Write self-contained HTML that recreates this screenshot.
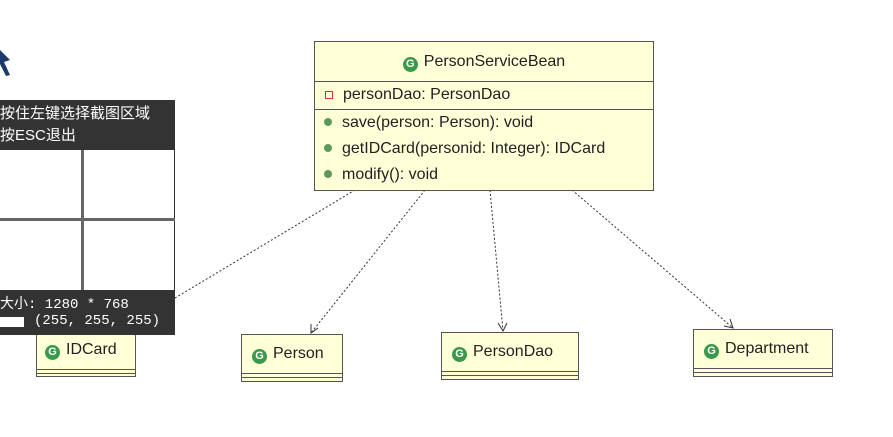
<!DOCTYPE html><html><head><style>
body{margin:0;width:893px;height:437px;background:#fff;position:relative;overflow:hidden;font-family:"Liberation Sans","Noto Sans CJK SC",sans-serif}
.b{position:absolute;background:#ffffd8;border:1px solid #555;box-sizing:border-box}
.g{display:inline-block;width:15px;height:15px;border-radius:50%;background:#3a9a4a;color:#fff;font-size:11px;font-weight:bold;text-align:center;line-height:15px;vertical-align:-1px;margin-right:6px}
.t{font-size:16px;color:#222}
.sm{position:absolute;left:0;right:0;border-top:1px solid #555}
.d{display:inline-block;width:8px;height:8px;border-radius:50%;background:#5a9a5a;margin:0 10px 0 9px;vertical-align:1px}
.row{position:absolute;left:0;font-size:16px;color:#222}
</style></head><body>
<svg width="893" height="437" style="position:absolute;left:0;top:0">
<g stroke="#333" stroke-dasharray="2,2" fill="none">
<line x1="355" y1="190" x2="175" y2="298"/>
<line x1="425" y1="190" x2="311" y2="333"/>
<line x1="490" y1="190" x2="503" y2="331"/>
<line x1="572" y1="190" x2="733" y2="328"/>
</g>
<g stroke="#333" fill="none">
<polyline points="311,324 311,333 318,328"/>
<polyline points="498,323 503,331 507,323"/>
<polyline points="724,326 733,328 730,319"/>
</g>
<path d="M0,50 L10,60 L4,62 L10,75 L6,76 L0,64 Z" fill="#1a3a6a"/>
</svg>
<div class="b" style="left:314px;top:41px;width:340px;height:150px">
<div style="position:absolute;top:11px;width:100%;text-align:center" class="t"><span class="g">G</span>PersonServiceBean</div>
<div class="sm" style="top:39px"></div>
<div class="row" style="top:44px"><span style="display:inline-block;width:6px;height:6px;border:1px solid #c33;margin:0 10px 0 10px;vertical-align:middle"></span>personDao: PersonDao</div>
<div class="sm" style="top:67px"></div>
<div class="row" style="top:72px"><span class="d"></span>save(person: Person): void</div>
<div class="row" style="top:98px"><span class="d"></span>getIDCard(personid: Integer): IDCard</div>
<div class="row" style="top:124px"><span class="d"></span>modify(): void</div>
</div>
<div class="b" style="left:36px;top:330px;width:100px;height:47px"><div class="t" style="padding:10px 0 0 8px"><span class="g">G</span>IDCard</div><div class="sm" style="top:38px"></div><div class="sm" style="top:42px"></div></div>
<div class="b" style="left:241px;top:334px;width:102px;height:48px"><div class="t" style="padding:10px 0 0 10px"><span class="g">G</span>Person</div><div class="sm" style="top:38px"></div><div class="sm" style="top:42px"></div></div>
<div class="b" style="left:441px;top:332px;width:138px;height:48px"><div class="t" style="padding:10px 0 0 10px"><span class="g">G</span>PersonDao</div><div class="sm" style="top:38px"></div><div class="sm" style="top:42px"></div></div>
<div class="b" style="left:693px;top:329px;width:140px;height:48px"><div class="t" style="padding:10px 0 0 10px"><span class="g">G</span>Department</div><div class="sm" style="top:38px"></div><div class="sm" style="top:42px"></div></div>
<div style="position:absolute;left:0;top:100px;width:175px;height:235px;background:#333">
<div style="position:absolute;left:0;top:3px;color:#fff;font-size:15px;line-height:22px">按住左键选择截图区域<br>按ESC退出</div>
<div style="position:absolute;left:0;top:50px;width:174px;height:140px;background:#fff"></div>
<div style="position:absolute;left:81px;top:50px;width:3px;height:140px;background:#666"></div>
<div style="position:absolute;left:0;top:118px;width:175px;height:3px;background:#666"></div>
<div style="position:absolute;left:0;top:193px;color:#fff;font-size:14px;font-family:'Liberation Mono','Noto Sans CJK SC',monospace">大小: 1280 * 768</div>
<div style="position:absolute;left:0;top:217px;width:24px;height:10px;background:#fff"></div>
<div style="position:absolute;left:34px;top:213px;color:#fff;font-size:14px;font-family:'Liberation Mono',monospace">(255, 255, 255)</div>
</div>
</body></html>
